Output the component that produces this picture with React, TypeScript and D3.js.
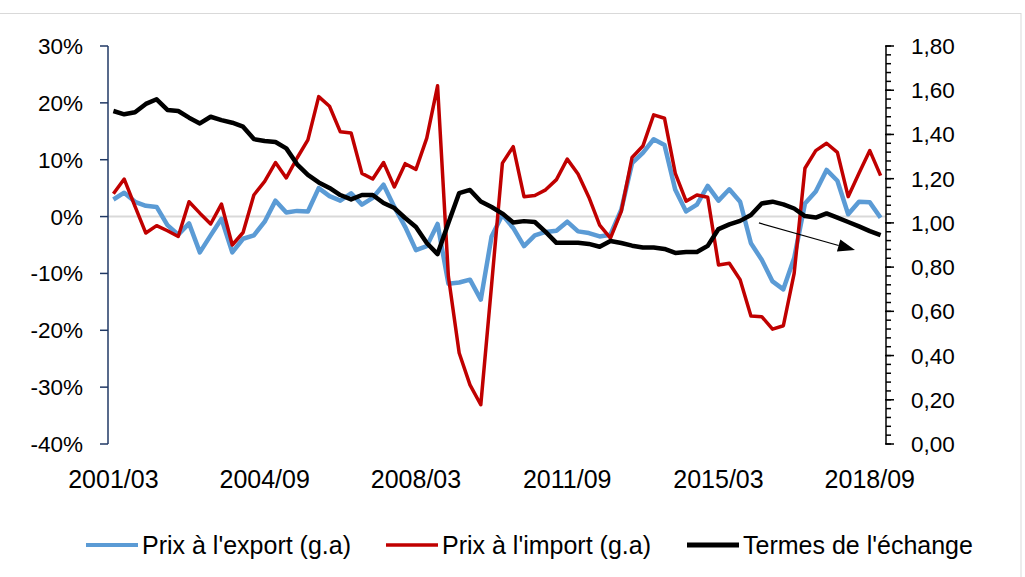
import React from "react";
import * as d3 from "d3";

// quarterly categories 2001/03 .. 2018/12
const years = d3.range(2001, 2019);
const months = ["03", "06", "09", "12"];
const quarters = years.flatMap((y) => months.map((m) => `${y}/${m}`));
const xLabels = ["2001/03", "2004/09", "2008/03", "2011/09", "2015/03", "2018/09"];

// Prix à l'export, glissement annuel (%)
const exportPrices = [
  3.0, 4.2, 2.6, 1.9, 1.7, -1.5, -3.2, -1.2, -6.3, -3.3,
  -0.4, -6.3, -3.9, -3.3, -0.9, 2.8, 0.7, 1.0, 0.9, 5.0,
  3.6, 2.8, 4.1, 2.1, 3.3, 5.6, 1.7, -1.8, -5.9, -5.2,
  -1.3, -11.8, -11.6, -11.1, -14.6, -3.5, 0.3, -2.0, -5.2, -3.3,
  -2.7, -2.5, -0.9, -2.6, -2.9, -3.5, -3.2, 1.2, 9.4, 11.2,
  13.6, 12.6, 4.7, 0.9, 2.1, 5.4, 2.8, 4.8, 2.6, -4.7,
  -7.6, -11.4, -12.8, -7.3, 2.3, 4.4, 8.2, 6.3, 0.4, 2.6,
  2.5, -0.2,
];

// Prix à l'import, glissement annuel (%)
const importPrices = [
  4.0, 6.6, 1.8, -2.9, -1.6, -2.5, -3.5, 2.6, 0.6, -1.3,
  2.2, -5.0, -2.8, 3.8, 6.2, 9.5, 6.8, 10.3, 13.5, 21.1,
  19.4, 14.9, 14.7, 7.6, 6.6, 9.5, 5.2, 9.3, 8.3, 13.8,
  23.0, -10.5, -24.0, -29.6, -33.1, -12.0, 9.4, 12.3, 3.5, 3.7,
  4.7, 6.5, 10.1, 7.5, 3.4, -1.5, -3.8, 0.9, 10.4, 12.4,
  17.9, 17.3, 7.6, 2.7, 3.8, 3.4, -8.5, -8.2, -11.1, -17.5,
  -17.6, -19.8, -19.2, -10.0, 8.5, 11.6, 12.9, 11.3, 3.5, 7.6,
  11.6, 7.2,
];

// Termes de l'échange (axe de droite)
const termsOfTrade = [
  1.506, 1.491, 1.5, 1.538, 1.559, 1.511, 1.506, 1.476, 1.45, 1.48,
  1.465, 1.453, 1.435, 1.379, 1.37, 1.366, 1.337, 1.265, 1.217, 1.183,
  1.158, 1.126, 1.106, 1.126, 1.126, 1.09, 1.067, 1.022, 0.981, 0.909,
  0.859, 1.0, 1.135, 1.149, 1.097, 1.072, 1.042, 1.002, 1.008, 1.004,
  0.959, 0.91, 0.91, 0.91, 0.905, 0.892, 0.918, 0.909, 0.897, 0.889,
  0.889, 0.882, 0.864, 0.868, 0.868, 0.896, 0.972, 0.993, 1.009, 1.036,
  1.088, 1.096, 1.084, 1.065, 1.031, 1.024, 1.043, 1.024, 1.004, 0.984,
  0.963, 0.945,
];

const leftTicks = d3.range(-40, 31, 10);
const rightTicks = d3.range(0, 9.5).map((i) => i * 0.2);
const rightMinor = d3.range(0, 46).map((i) => i * 0.04);

// hand-drawn trend arrow (category index, ratio)
const arrowFrom = [59.74, 1.0];
const arrowTo = [68.63, 0.877];

const legendItems = [
  { label: "Prix à l'export (g.a)", color: "#5B9BD5", width: 4, x: 86 },
  { label: "Prix à l'import (g.a)", color: "#C00000", width: 3.5, x: 386 },
  { label: "Termes de l'échange", color: "#000000", width: 5, x: 687 },
];

const font = "'Liberation Sans', Arial, sans-serif";

const App = () => {
  const width = 1025;
  const height = 577;
  const left = 108;
  const right = 886;
  const top = 46;
  const bottom = 444;

  const x = d3.scalePoint().domain(quarters).range([left, right]).padding(0.5);
  const xIdx = (i) => x(quarters[0]) + i * x.step();
  const yL = d3.scaleLinear().domain([-40, 30]).range([bottom, top]);
  const yR = d3.scaleLinear().domain([0, 1.8]).range([bottom, top]);

  const lineL = d3
    .line()
    .x((d, i) => x(quarters[i]))
    .y((d) => yL(d));
  const lineR = d3
    .line()
    .x((d, i) => x(quarters[i]))
    .y((d) => yR(d));

  const ax = xIdx(arrowFrom[0]);
  const ay = yR(arrowFrom[1]);
  const bx = xIdx(arrowTo[0]);
  const by = yR(arrowTo[1]);
  const len = Math.hypot(bx - ax, by - ay);
  const ux = (bx - ax) / len;
  const uy = (by - ay) / len;
  const hl = 17;
  const hw = 6.3;
  const baseX = bx - ux * hl;
  const baseY = by - uy * hl;
  const head = `${bx},${by} ${baseX - uy * hw},${baseY + ux * hw} ${baseX + uy * hw},${baseY - ux * hw}`;

  return (
    <svg
      width={width}
      height={height}
      style={{ position: "absolute", left: 0, top: 0, background: "#fff" }}
      fontFamily={font}
    >
      <rect x={-1} y={13.5} width={1022} height={600} fill="#fff" stroke="#D9D9D9" />

      {/* zero line */}
      <line x1={left} x2={right} y1={yL(0)} y2={yL(0)} stroke="#D9D9D9" strokeWidth={2} />

      {/* left axis */}
      <line x1={left} x2={left} y1={top} y2={bottom} stroke="#203864" strokeWidth={1.5} />
      {leftTicks.map((t) => (
        <g key={t}>
          <line x1={left - 8} x2={left} y1={yL(t)} y2={yL(t)} stroke="#203864" strokeWidth={1.5} />
          <text x={83} y={yL(t) + 8} textAnchor="end" fontSize={22.5} fill="#000">
            {t}%
          </text>
        </g>
      ))}

      {/* right axis */}
      <line x1={right} x2={right} y1={top} y2={bottom} stroke="#000" strokeWidth={1.5} />
      {rightMinor.map((t, i) => (
        <line key={i} x1={right} x2={right + 5} y1={yR(t)} y2={yR(t)} stroke="#000" strokeWidth={1.5} />
      ))}
      {rightTicks.map((t) => (
        <g key={t}>
          <line x1={right - 1} x2={right + 8} y1={yR(t)} y2={yR(t)} stroke="#000" strokeWidth={1.5} />
          <text x={911} y={yR(t) + 8} fontSize={22.5} fill="#000">
            {t.toFixed(2).replace(".", ",")}
          </text>
        </g>
      ))}

      {/* category labels */}
      {xLabels.map((l) => (
        <text key={l} x={x(l)} y={488} textAnchor="middle" fontSize={25} fill="#000">
          {l}
        </text>
      ))}

      {/* series */}
      <path d={lineL(exportPrices)} fill="none" stroke="#5B9BD5" strokeWidth={4.5} strokeLinejoin="round" />
      <path d={lineL(importPrices)} fill="none" stroke="#C00000" strokeWidth={3.5} strokeLinejoin="round" />
      <path d={lineR(termsOfTrade)} fill="none" stroke="#000" strokeWidth={4.5} strokeLinejoin="round" />

      {/* trend arrow */}
      <line x1={ax} y1={ay} x2={baseX} y2={baseY} stroke="#000" strokeWidth={1.2} />
      <polygon points={head} fill="#000" />

      {/* legend */}
      {legendItems.map((d) => (
        <g key={d.label}>
          <line x1={d.x} x2={d.x + 52} y1={545} y2={545} stroke={d.color} strokeWidth={d.width} />
          <text x={d.x + 56} y={554} fontSize={25} fill="#000">
            {d.label}
          </text>
        </g>
      ))}
    </svg>
  );
};

export default App;
